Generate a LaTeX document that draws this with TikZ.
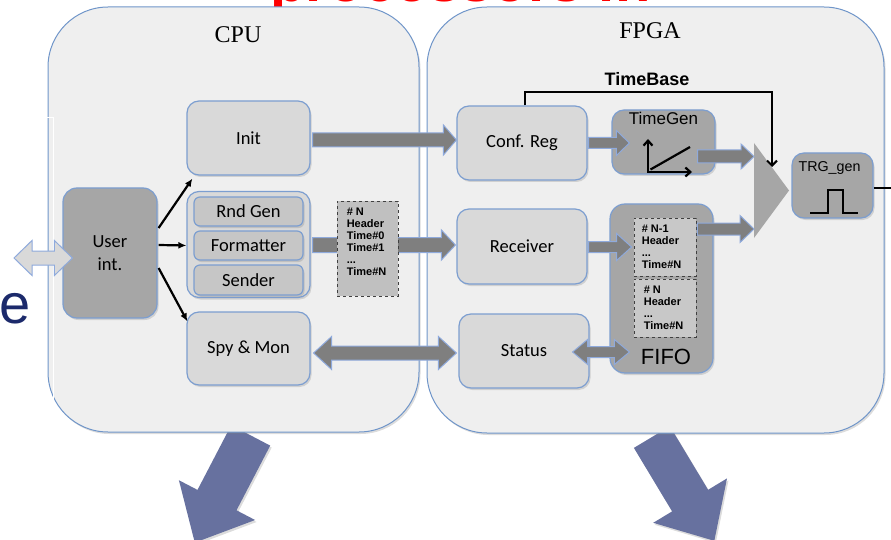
\documentclass[tikz,border=0pt]{standalone}
\usepackage{fontspec}
\setmainfont{Liberation Serif}
\newfontfamily\calib{Carlito}
\newfontfamily\arialf{Liberation Sans}
\usetikzlibrary{calc,arrows.meta,shadows}

\definecolor{panelfill}{HTML}{EFEFEF}
\definecolor{panelline}{HTML}{6F95C9}
\definecolor{boxline}{HTML}{7C9ED0}
\definecolor{lightbox}{HTML}{D9D9D9}
\definecolor{midbox}{HTML}{C6C6C6}
\definecolor{darkbox}{HTML}{A6A6A6}
\definecolor{pktfill}{HTML}{C0C0C0}
\definecolor{pktfillb}{HTML}{C8C8C8}
\definecolor{fatfill}{HTML}{7F7F7F}
\definecolor{arrowline}{HTML}{8FAADC}
\definecolor{bluearrow}{HTML}{67719F}
\definecolor{navytext}{HTML}{1C2A6B}

% horizontal block arrow: start, end, shaft half height, head half height, head length, style
\newcommand\fatarrow[6]{%
  \path[#6] let \p1=(#1), \p2=(#2) in
    (\x1,\y1+#3pt) -- (\x2-#5pt,\y1+#3pt) -- (\x2-#5pt,\y1+#4pt) -- (\x2,\y1)
    -- (\x2-#5pt,\y1-#4pt) -- (\x2-#5pt,\y1-#3pt) -- (\x1,\y1-#3pt) -- cycle;}
% horizontal double-headed block arrow, same arguments
\newcommand\fatdarrow[6]{%
  \path[#6] let \p1=(#1), \p2=(#2) in
    (\x1,\y1) -- (\x1+#5pt,\y1+#4pt) -- (\x1+#5pt,\y1+#3pt) -- (\x2-#5pt,\y1+#3pt)
    -- (\x2-#5pt,\y1+#4pt) -- (\x2,\y1) -- (\x2-#5pt,\y1-#4pt) -- (\x2-#5pt,\y1-#3pt)
    -- (\x1+#5pt,\y1-#3pt) -- (\x1+#5pt,\y1-#4pt) -- cycle;}

\tikzset{
  sz/.style 2 args={minimum width=#1pt, minimum height=#2pt},
  softshadow/.style={drop shadow={shadow xshift=1.5pt, shadow yshift=-2pt, opacity=.28}},
  panel/.style={draw=panelline, fill=panelfill, line width=1pt, rounded corners=60pt,
    inner sep=0pt, softshadow},
  lbox/.style={draw=boxline, fill=lightbox, line width=1.2pt, rounded corners=12pt,
    inner sep=0pt, align=center, font=\calib\fontsize{18.5}{22.5}\selectfont, softshadow},
  dbox/.style={lbox, fill=darkbox},
  gbox/.style={lbox, fill=midbox, rounded corners=6pt},
  pktbox/.style={draw=black!75, dashed, fill=pktfill, line width=0.8pt, inner sep=0pt},
  pkttext/.style={anchor=north west, inner sep=0pt, align=left,
    font=\arialf\bfseries\fontsize{11}{12}\selectfont},
  fat/.style={fill=fatfill, draw=arrowline, line width=1pt},
  pale/.style={fill=lightbox, draw=arrowline, line width=1pt},
  ctrl/.style={line width=2.2pt, -{Latex[length=8pt,width=7pt]}},
  icon/.style={line width=2.2pt},
}

\begin{document}
\begin{tikzpicture}[x=1pt, y=-1pt]
\useasboundingbox (0,0) rectangle (891,540);
\begin{scope}
\clip (0,0) rectangle (891,540);

% heading fragment at the top edge
\node[anchor=base west, inner sep=0pt, text=red,
  font=\arialf\bfseries\fontsize{58}{58}\selectfont] (heading) at (270,2) {processors in};

% large side letter
\node[anchor=base west, inner sep=0pt, text=navytext,
  font=\arialf\fontsize{56}{56}\selectfont] (sidee) at (-1,323) {e};

% outputs of both sides, behind the panels
\fill[bluearrow, softshadow] (231.2,425.2) -- (270.2,445.6) -- (236.5,510.3) -- (255.1,520.0)
  -- (194.8,542.6) -- (178.9,480.2) -- (197.5,489.9) -- cycle;
\fill[bluearrow, softshadow] (633.9,447.9) -- (669.9,426.3) -- (708.1,489.8) -- (727.0,478.4)
  -- (714.3,540.8) -- (653.2,522.8) -- (672.1,511.4) -- cycle;

% the two panels
\node[panel, sz={371}{425}] (cpu) at (233.5,219.5) {};
\node[panel, sz={457}{426}] (fpga) at (655.5,220) {};
\draw[white, line width=1pt] (44,118) -- (53,118) -- (53,430);
\node[font=\fontsize{24}{24}\selectfont, inner sep=0pt] (cpulbl) at (238,35) {CPU};
\node[font=\fontsize{24}{24}\selectfont, inner sep=0pt] (fpgalbl) at (650,30.5) {FPGA};

% CPU blocks
\node[dbox, rounded corners=14pt, sz={94}{130}] (userint) at (110,253) {User\\int.};
\node[lbox, sz={123}{74}] (init) at (248.5,138) {Init};
\node[lbox, sz={123}{106}] (grp) at (248.5,244.5) {};
\node[gbox, sz={109}{29}] (rnd) at (248.5,211.5) {Rnd Gen};
\node[gbox, sz={109}{29}] (fmt) at (248.5,245.5) {Formatter};
\node[gbox, sz={109}{30}] (snd) at (248.5,280) {Sender};
\node[lbox, sz={123}{73}] (spymon) at (248.5,348.5) {Spy \& Mon};

% FPGA blocks
\node[lbox, sz={130}{74}] (confreg) at (522,143) {Conf. Reg};
\node[dbox, sz={103}{64}] (timegen) at (663.5,142) {};
\node[dbox, sz={81}{65}] (trg) at (832.5,185.5) {};
\node[lbox, sz={130}{75}] (receiver) at (522,246.5) {Receiver};
\node[lbox, sz={130}{74}] (status) at (524,351) {Status};
\node[dbox, rounded corners=15pt, sz={103}{169}] (fifo) at (661.5,288.5) {};
\node[pktbox, fill=pktfillb, sz={62}{58}] (fp1) at (665,247) {};
\node[pktbox, fill=pktfillb, sz={62}{58}] (fp2) at (665,308) {};

\node[anchor=base, inner sep=0pt, font=\arialf\fontsize{17}{17}\selectfont]
  at ($(timegen.north)+(0,15)$) {TimeGen};
\node[anchor=base, inner sep=0pt, font=\arialf\fontsize{14.3}{14.3}\selectfont]
  at ($(trg.north)+(-3,19)$) {TRG\_gen};
\node[anchor=base, inner sep=0pt, font=\arialf\fontsize{22}{22}\selectfont]
  at ($(fifo.south)+(4.5,-9)$) {FIFO};
\node[pkttext] at ($(fp1.north west)+(8,7)$) {\# N-1\\Header\\...\\Time\#N};
\node[pkttext] at ($(fp2.north west)+(10,7)$) {\# N\\Header\\...\\Time\#N};

% combiner in front of the trigger generator
\coordinate (muxa) at (754,143);
\coordinate (muxb) at (754,238);
\coordinate (muxapex) at (789,190.5);
\fill[darkbox] (muxa) -- (muxapex) -- (muxb) -- cycle;

% block arrows
\coordinate (a1s) at ($(init.east)+(2,2)$);
\coordinate (a1e) at ($(confreg.west)+(0,-3)$);
\fatarrow{a1s}{a1e}{7}{15}{13}{fat}
\coordinate (a2s) at ($(confreg.east)+(1,0)$);
\coordinate (a2e) at ($(timegen.west)+(18,1)$);
\fatarrow{a2s}{a2e}{5.5}{12.5}{13}{fat}
\coordinate (a3s) at ($(timegen.east)+(-18,14.5)$);
\coordinate (a3e) at (muxa |- a3s);
\fatarrow{a3s}{a3e}{6.5}{12.5}{13}{fat}
\coordinate (a4s) at ($(grp.east)+(2,0.5)$);
\coordinate (a4e) at ($(receiver.west)+(-1,-1.5)$);
\fatarrow{a4s}{a4e}{7.5}{15}{14}{fat}
\coordinate (a5s) at ($(receiver.east)+(1,0.5)$);
\coordinate (a5e) at ($(fp1.west)+(-2,0)$);
\fatarrow{a5s}{a5e}{5.5}{13.5}{15}{fat}
\coordinate (a6s) at ($(fp1.east)+(1,-18)$);
\coordinate (a6e) at (muxa |- a6s);
\fatarrow{a6s}{a6e}{6}{13.5}{14}{fat}
\coordinate (a7s) at ($(spymon.east)+(3,4.5)$);
\coordinate (a7e) at ($(status.west)+(-2,2)$);
\fatdarrow{a7s}{a7e}{7}{16.5}{18}{fat}
\coordinate (a8s) at ($(status.east)+(-17,1)$);
\coordinate (a8e) at ($(fifo.west)+(20,0)$);
\fatdarrow{a8s}{a8e}{5.5}{12.5}{15}{fat}
\coordinate (extio) at (14,258);
\coordinate (a9e) at ($(userint.west)+(10,5)$);
\fatdarrow{extio}{a9e}{7}{17.5}{18}{pale}

% data packet on its way to the receiver
\node[pktbox, sz={61}{95}] (pkt) at (367.5,248.5) {};
\node[pkttext] at ($(pkt.north west)+(10,7)$) {\# N\\Header\\Time\#0\\Time\#1\\...\\Time\#N};

% control arrows from the user interface
\draw[ctrl] ($(userint.east)+(1,-25)$) -- ($(init.south west)+(6,3)$);
\draw[ctrl] ($(userint.east)+(1,-8)$) -- (grp.west |- fmt);
\draw[ctrl] ($(userint.east)+(1,15)$) -- ($(spymon.north west)+(1,10)$);

% time base line into the combiner
\coordinate (tbcorner) at (772,92);
\coordinate (tbend) at (772,167);
\draw[line width=2pt, -{Straight Barb[length=5pt,width=10pt]}]
  ($(confreg.north)+(3,0)$) |- (tbcorner) -- (tbend);
\node[anchor=base, inner sep=0pt, font=\arialf\bfseries\fontsize{18}{18}\selectfont]
  (tblabel) at (647,86) {TimeBase};

% ramp icon of the time generator
\begin{scope}[shift={(timegen.center)}]
  \draw[icon, {Straight Barb[length=5pt,width=9pt]}-{Straight Barb[length=5pt,width=9pt]}]
    (-15.5,-3) -- (-15.5,30) -- (28.5,30);
  \draw[icon] (-13,27.5) -- (26.5,5);
\end{scope}

% pulse icon and output of the trigger generator
\begin{scope}[shift={(trg.center)}]
  \draw[icon] (-22.5,27.5) -- (-4.5,27.5) -- (-4.5,4.5) -- (10.5,4.5) -- (10.5,27.5) -- (25.5,27.5);
\end{scope}
\coordinate (trgout) at (891,188.5);
\draw[line width=2pt] ($(trg.east)+(0,3)$) -- (trgout);

\end{scope}
\end{tikzpicture}
\end{document}
